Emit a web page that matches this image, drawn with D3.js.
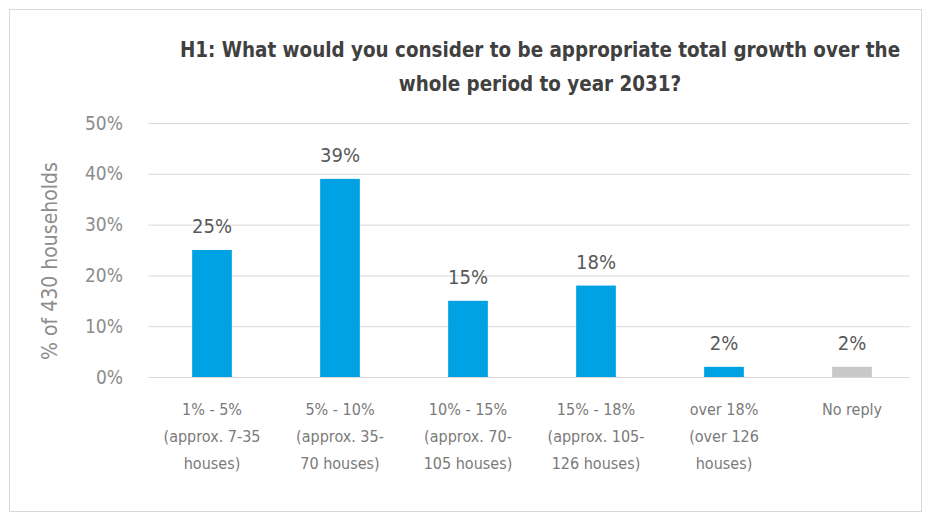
<!DOCTYPE html>
<html><head><meta charset="utf-8">
<script src="https://cdn.jsdelivr.net/npm/d3@7"></script>
<style>body{margin:0;background:#fff}svg{display:block}</style>
</head><body>
<svg id="c" width="931" height="522"></svg>
<script>
const categories = [
  ["1% - 5%","(approx. 7-35","houses)"],
  ["5% - 10%","(approx. 35-","70 houses)"],
  ["10% - 15%","(approx. 70-","105 houses)"],
  ["15% - 18%","(approx. 105-","126 houses)"],
  ["over 18%","(over 126","houses)"],
  ["No reply"]
];
const values = [25, 39, 15, 18, 2, 2];
const dataLabels = ["25%","39%","15%","18%","2%","2%"];
const yTicks = [0,10,20,30,40,50];
const titleLines = ["H1: What would you consider to be appropriate total growth over the","whole period to year 2031?"];
const yTitle = "% of 430 households";

const svg = d3.select("#c");
const FONT = "'DejaVu Sans Condensed','Open Sans',sans-serif";
svg.append("rect").attr("x",9.5).attr("y",9.5).attr("width",912).attr("height",502)
  .attr("fill","#fff").attr("stroke","#d9d9d9");

const x = d3.scaleBand().domain(d3.range(values.length)).range([148,916]).paddingInner(0.69).paddingOuter(0.345);
const y = d3.scaleLinear().domain([0,50]).range([377,123]);

const g = svg.append("g");
g.selectAll("line.grid").data(yTicks).join("line").attr("class","grid")
  .attr("x1",148).attr("x2",910).attr("y1",d=>y(d)+0.5).attr("y2",d=>y(d)+0.5)
  .attr("stroke","#d9d9d9").attr("stroke-width",1);

const yAxis = d3.axisLeft(y).tickValues(yTicks).tickFormat(d=>d+"%").tickSize(0).tickPadding(0);
const ya = svg.append("g").attr("transform","translate(123,0)").call(yAxis);
ya.select(".domain").remove();
ya.selectAll("text").attr("font-family",FONT).attr("font-size",19).attr("fill","#8c8c8c");

g.selectAll("rect.bar").data(values).join("rect").attr("class","bar")
  .attr("x",(d,i)=>x(i)).attr("width",x.bandwidth())
  .attr("y",d=>y(d)).attr("height",d=>y(0)-y(d))
  .attr("fill",(d,i)=>i===values.length-1?"#c8c8c8":"#00a2e3");

g.selectAll("text.dl").data(values).join("text").attr("class","dl")
  .attr("x",(d,i)=>x(i)+x.bandwidth()/2).attr("y",d=>y(d)-17)
  .attr("text-anchor","middle").attr("font-family",FONT).attr("font-size",20).attr("fill","#595959")
  .text((d,i)=>dataLabels[i]);

const cl = g.selectAll("text.cat").data(categories).join("text").attr("class","cat")
  .attr("text-anchor","middle").attr("font-family",FONT).attr("font-size",16).attr("fill","#7a7a7a");
cl.each(function(lines,i){
  d3.select(this).selectAll("tspan").data(lines).join("tspan")
    .attr("x",x(i)+x.bandwidth()/2).attr("y",(l,j)=>415+j*27).text(l=>l);
});

svg.append("text").attr("transform","translate(57,261) rotate(-90)")
  .attr("text-anchor","middle").attr("font-family",FONT).attr("font-size",21).attr("fill","#8c8c8c")
  .text(yTitle);

svg.selectAll("text.title").data(titleLines).join("text").attr("class","title")
  .attr("x",540).attr("y",(d,i)=>57+i*34).attr("text-anchor","middle")
  .attr("font-family",FONT).attr("font-weight","bold").attr("font-size",20.4).attr("fill","#404040")
  .text(d=>d);
</script>
</body></html>
